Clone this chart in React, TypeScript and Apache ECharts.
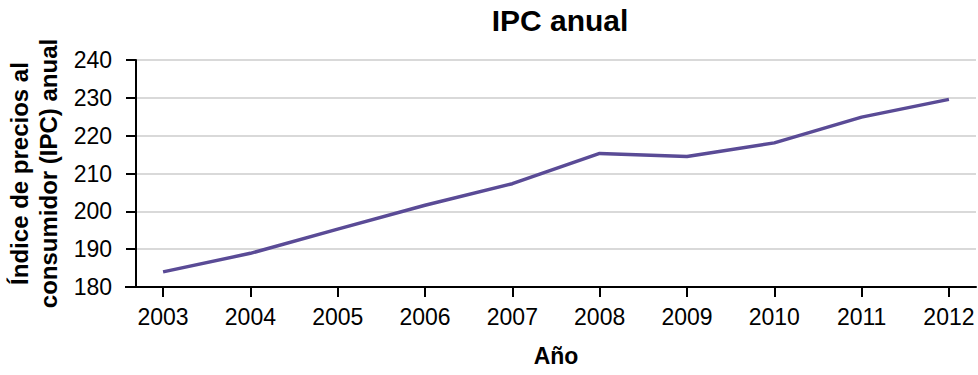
import React, { useEffect, useRef } from "react";
import * as echarts from "echarts";

const years = [2003, 2004, 2005, 2006, 2007, 2008, 2009, 2010, 2011, 2012];
const cpi = [184.0, 188.9, 195.3, 201.6, 207.3, 215.3, 214.5, 218.1, 224.9, 229.6];
const yTicks = [180, 190, 200, 210, 220, 230, 240];

const FONT = "'Liberation Sans', Arial, sans-serif";

export default function App() {
  const ref = useRef<HTMLDivElement>(null);
  useEffect(() => {
    if (!ref.current) return;
    const chart = echarts.init(ref.current, null, { renderer: "svg" });
    chart.setOption({
      animation: false,
      textStyle: { fontFamily: FONT },
      title: {
        text: "IPC anual",
        left: 555,
        top: 0,
        textAlign: "center",
        textStyle: { fontFamily: FONT, fontSize: 30, fontWeight: "bold", color: "#000" },
      },
      grid: {
        left: 136,
        right: 2,
        top: 60,
        bottom: 88,
        containLabel: false,
        outerBoundsMode: "none",
      },
      graphic: [
        {
          type: "line",
          shape: { x1: 125, y1: 287, x2: 137, y2: 287 },
          style: { stroke: "#000", lineWidth: 2 },
        },
      ],
      xAxis: {
        type: "value",
        min: 2002.69,
        max: 2012.31,
        name: "Año",
        nameLocation: "middle",
        nameGap: 57,
        nameTextStyle: { fontFamily: FONT, fontSize: 23, fontWeight: "bold", color: "#000" },
        axisLine: { show: true, lineStyle: { color: "#000", width: 2 } },
        axisTick: { show: true, customValues: years, length: 10, lineStyle: { color: "#000", width: 2 } },
        axisLabel: {
          customValues: years,
          margin: 18,
          fontSize: 23,
          color: "#000",
          fontFamily: FONT,
          formatter: (v: number) => String(Math.round(v)),
        },
        splitLine: { show: false },
      },
      yAxis: {
        type: "value",
        min: yTicks[0],
        max: yTicks[yTicks.length - 1],
        interval: 10,
        name: "Índice de precios al\nconsumidor (IPC) anual",
        nameLocation: "middle",
        nameGap: 69,
        nameRotate: 90,
        nameTextStyle: {
          fontFamily: FONT,
          fontSize: 24,
          fontWeight: "bold",
          color: "#000",
          lineHeight: 29,
        },
        axisLine: { show: true, lineStyle: { color: "#000", width: 2 } },
        axisTick: { show: true, length: 10, lineStyle: { color: "#000", width: 2 } },
        axisLabel: { margin: 24, fontSize: 23, color: "#000", fontFamily: FONT },
        splitLine: { show: true, lineStyle: { color: "#cccccc", width: 1.5 } },
      },
      series: [
        {
          type: "line",
          data: years.map((y, i) => [y, cpi[i]]),
          showSymbol: false,
          symbol: "none",
          lineStyle: { color: "#5a4b96", width: 3.5 },
        },
      ],
    });
    return () => chart.dispose();
  }, []);
  return (
    <div
      ref={ref}
      style={{ position: "absolute", left: 0, top: 0, width: 978, height: 375 }}
    />
  );
}
